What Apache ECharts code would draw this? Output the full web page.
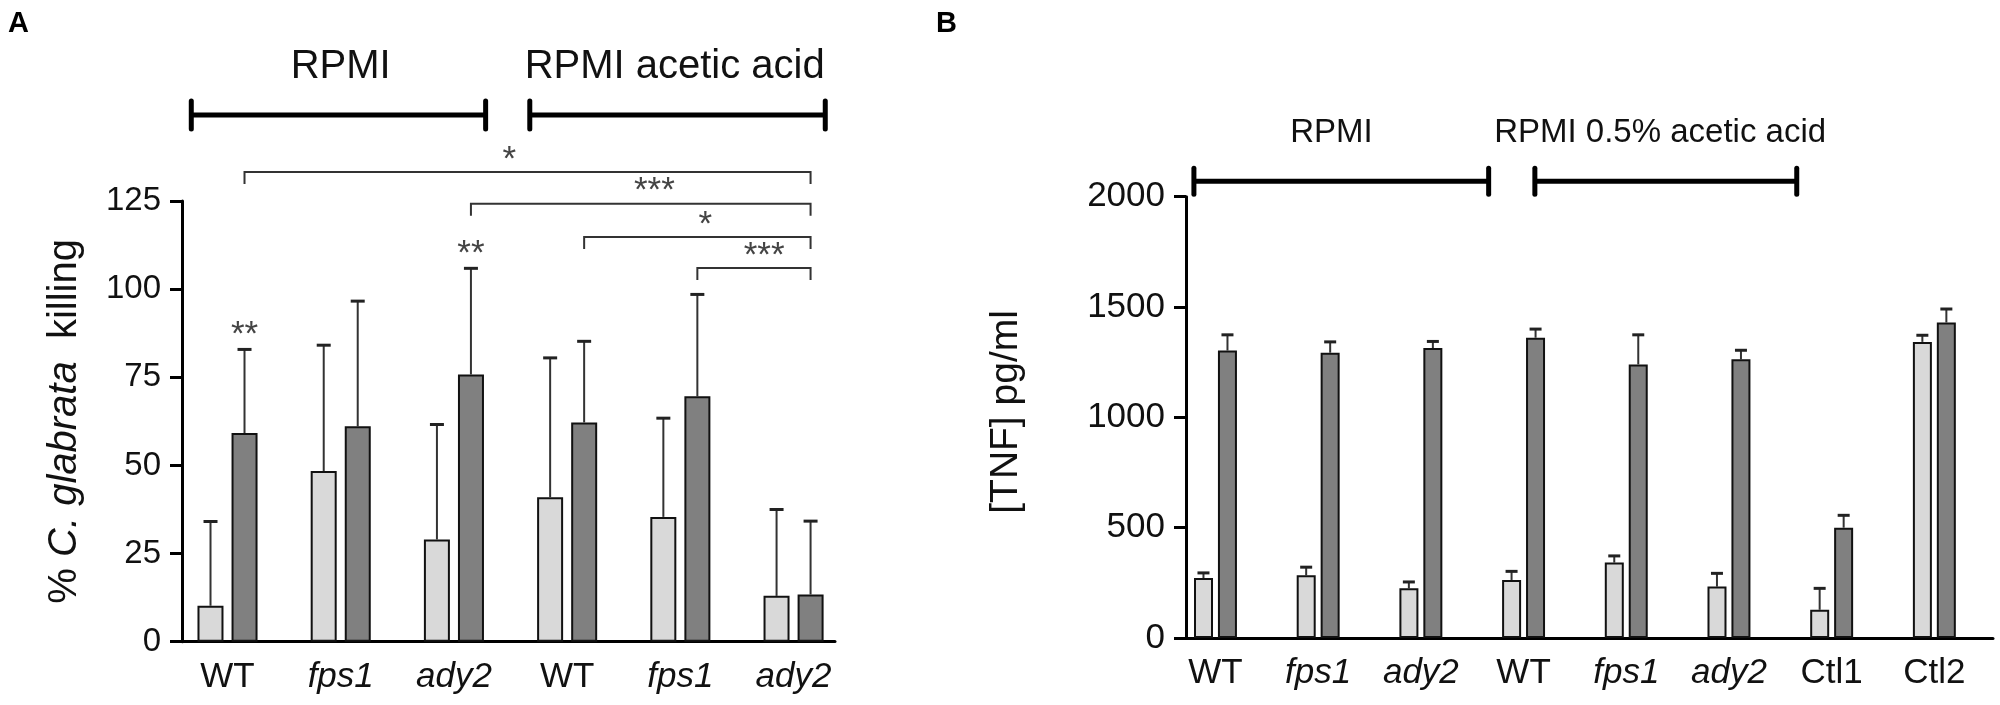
<!DOCTYPE html>
<html><head><meta charset="utf-8">
<script src="https://cdn.jsdelivr.net/npm/echarts@6/dist/echarts.min.js"></script>
<style>html,body{margin:0;padding:0;background:#fff}#c{width:2000px;height:705px}</style>
</head><body><div id="c"></div>
<script>
// ---------- Panel A data ----------
const catsA = ['WT', 'fps1', 'ady2', 'WT', 'fps1', 'ady2'];
const italicA = [false, true, true, false, true, true];
const lightA = [10.2, 48.4, 29.0, 41.0, 35.4, 13.0];
const lightAErr = [34.1, 84.1, 61.6, 80.5, 63.4, 37.5];
const darkA = [59.2, 61.1, 75.8, 62.2, 69.6, 13.4];
const darkAErr = [82.9, 96.6, 105.9, 85.2, 98.5, 34.2];
const ticksA = [0, 25, 50, 75, 100, 125];
// significance brackets (group indices, level in % units, star position in group units)
const sigFromA = [0, 2, 3, 4];
const sigToA = [5, 5, 5, 5];
const sigLevelA = [133.2, 124.2, 114.8, 106.0];
const sigTextA = ['*', '***', '*', '***'];
const sigAtA = [2.49, 3.77, 4.22, 4.74];
const starGroupsA = [0, 2];
const starTextA = ['**', '**'];
// condition brackets above panel A
const condTextA = ['RPMI', 'RPMI acetic acid'];
const condFromA = [-0.32, 2.67];
const condToA = [2.28, 5.28];
const condAtA = [1.0, 3.95];

// ---------- Panel B data ----------
const catsB = ['WT', 'fps1', 'ady2', 'WT', 'fps1', 'ady2', 'Ctl1', 'Ctl2'];
const italicB = [false, true, true, false, true, true, false, false];
const lightB = [272, 284, 225, 263, 342, 233, 128, 1342];
const lightBErr = [295, 321, 254, 302, 372, 293, 225, 1372];
const darkB = [1303, 1293, 1314, 1361, 1240, 1263, 500, 1430];
const darkBErr = [1374, 1342, 1344, 1400, 1374, 1304, 556, 1491];
const ticksB = [0, 500, 1000, 1500, 2000];
const condTextB = ['RPMI', 'RPMI 0.5% acetic acid'];
const condFromB = [-0.21, 3.11];
const condToB = [2.66, 5.66];
const condAtB = [1.13, 4.33];

const FONT = "'Liberation Sans', Arial, Helvetica, sans-serif";
const chart = echarts.init(document.getElementById('c'), null, {renderer: 'canvas'});

function xAxisCfg(grid, min, max, cats, italic, fs) {
  return {
    type: 'value', gridIndex: grid, min: min, max: max,
    splitLine: {show: false},
    axisTick: {show: false},
    axisLine: {show: true, onZero: false, lineStyle: {color: '#000', width: 3}},
    axisLabel: {
      customValues: cats.map((c, i) => i),
      margin: 18,
      formatter: v => { const i = Math.round(v); return italic[i] ? '{i|' + cats[i] + '}' : '{n|' + cats[i] + '}'; },
      rich: {
        n: {fontSize: fs, fontFamily: FONT, color: '#111'},
        i: {fontSize: fs, fontFamily: FONT, color: '#111', fontStyle: 'italic'}
      }
    }
  };
}
function yAxisCfg(grid, ticks, fs, margin, name, nameFs, nameGap, rich) {
  return {
    type: 'value', gridIndex: grid, min: ticks[0], max: ticks[ticks.length - 1],
    interval: ticks[1] - ticks[0],
    splitLine: {show: false},
    axisLine: {show: true, onZero: false, lineStyle: {color: '#000', width: 3}},
    axisTick: {show: true, length: 12, lineStyle: {color: '#000', width: 3}},
    axisLabel: {fontSize: fs, fontFamily: FONT, color: '#111', margin: margin, formatter: v => String(v)},
    name: name, nameLocation: 'middle', nameGap: nameGap, nameRotate: 90,
    nameTextStyle: {fontSize: nameFs, fontFamily: FONT, color: '#111', rich: rich}
  };
}
function barSeries(axis, vals, color, bw, gap, z) {
  return {
    type: 'bar', xAxisIndex: axis, yAxisIndex: axis,
    data: vals.map((v, i) => [i, v]),
    barWidth: bw, barGap: gap,
    itemStyle: {color: color, borderColor: '#111', borderWidth: 2},
    z: z, silent: true
  };
}
function errSeries(axis, tops, errs, dx, cap, color) {
  return {
    type: 'custom', xAxisIndex: axis, yAxisIndex: axis, silent: true, z: 1,
    data: tops.map((v, i) => [i, v, errs[i]]),
    renderItem: (p, api) => {
      const a = api.coord([api.value(0), api.value(1)]);
      const b = api.coord([api.value(0), api.value(2)]);
      const x = a[0] + dx;
      return {type: 'group', children: [
        {type: 'line', shape: {x1: x, y1: a[1], x2: x, y2: b[1]}, style: {stroke: color, lineWidth: 2}},
        {type: 'line', shape: {x1: x - cap / 2, y1: b[1], x2: x + cap / 2, y2: b[1]}, style: {stroke: '#222', lineWidth: 3}}
      ]};
    }
  };
}
function condSeries(axis, texts, froms, tos, ats, level, textLevel, capH, fs) {
  return {
    type: 'custom', xAxisIndex: axis, yAxisIndex: axis, silent: true, clip: false,
    data: texts.map((t, i) => [froms[i], tos[i], ats[i]]),
    renderItem: (p, api) => {
      const i = p.dataIndex;
      const a = api.coord([froms[i], level]);
      const b = api.coord([tos[i], level]);
      const t = api.coord([ats[i], textLevel]);
      return {type: 'group', children: [
        {type: 'line', shape: {x1: a[0], y1: a[1], x2: b[0], y2: b[1]}, style: {stroke: '#000', lineWidth: 5}},
        {type: 'line', shape: {x1: a[0], y1: a[1] - capH, x2: a[0], y2: a[1] + capH}, style: {stroke: '#000', lineWidth: 5, lineCap: 'round'}},
        {type: 'line', shape: {x1: b[0], y1: b[1] - capH, x2: b[0], y2: b[1] + capH}, style: {stroke: '#000', lineWidth: 5, lineCap: 'round'}},
        {type: 'text', x: t[0], y: t[1], style: {text: texts[i], fontSize: fs, fontFamily: FONT, fill: '#111', align: 'center', verticalAlign: 'middle'}}
      ]};
    }
  };
}

const option = {
  backgroundColor: '#fff',
  animation: false,
  grid: [
    {left: 182, top: 201, width: 653, height: 440.7},
    {left: 1186, top: 196.7, width: 807, height: 441.3}
  ],
  xAxis: [
    xAxisCfg(0, -0.402, 5.366, catsA, italicA, 35),
    xAxisCfg(1, -0.287, 7.571, catsB, italicB, 35)
  ],
  yAxis: [
    yAxisCfg(0, ticksA, 33, 21, '{n|% }{i|C. glabrata}{n|  killing}', 40, 97, {
      n: {fontSize: 40, fontFamily: FONT, color: '#111'},
      i: {fontSize: 40, fontFamily: FONT, color: '#111', fontStyle: 'italic'}
    }),
    yAxisCfg(1, ticksB, 35, 21, ' [TNF] pg/ml', 39, 160, undefined)
  ],
  graphic: [
    {type: 'text', left: 8, top: 9, style: {text: 'A', font: 'bold 29px ' + FONT, fill: '#000'}},
    {type: 'text', left: 936, top: 9, style: {text: 'B', font: 'bold 29px ' + FONT, fill: '#000'}}
  ],
  series: [
    errSeries(0, lightA, lightAErr, -17, 14, '#333'),
    errSeries(0, darkA, darkAErr, 17, 14, '#333'),
    barSeries(0, lightA, '#d9d9d9', 26, '31%', 2),
    barSeries(0, darkA, '#808080', 26, '31%', 2),
    errSeries(1, lightB, lightBErr, -12, 12, '#333'),
    errSeries(1, darkB, darkBErr, 12, 12, '#333'),
    barSeries(1, lightB, '#d9d9d9', 19, '26%', 2),
    barSeries(1, darkB, '#808080', 19, '26%', 2),
    condSeries(0, condTextA, condFromA, condToA, condAtA, 149.4, 163, 14, 40),
    condSeries(1, condTextB, condFromB, condToB, condAtB, 2070, 2289, 13, 33),
    {
      type: 'custom', xAxisIndex: 0, yAxisIndex: 0, silent: true, clip: false,
      data: sigLevelA.map((l, i) => [sigFromA[i], sigToA[i], l]),
      renderItem: (p, api) => {
        const i = p.dataIndex;
        const a = api.coord([sigFromA[i], sigLevelA[i]]);
        const b = api.coord([sigToA[i], sigLevelA[i]]);
        const t = api.coord([sigAtA[i], sigLevelA[i]]);
        const x1 = a[0] + 17, x2 = b[0] + 17, y = a[1];
        return {type: 'group', children: [
          {type: 'polyline', shape: {points: [[x1, y + 12], [x1, y], [x2, y], [x2, y + 12]]}, style: {stroke: '#333', lineWidth: 2, fill: null}},
          {type: 'text', x: t[0], y: y - 12, style: {text: sigTextA[i], fontSize: 35, fontFamily: FONT, fill: '#444', align: 'center', verticalAlign: 'middle'}}
        ]};
      }
    },
    {
      type: 'custom', xAxisIndex: 0, yAxisIndex: 0, silent: true, clip: false,
      data: starGroupsA.map(g => [g, darkAErr[g]]),
      renderItem: (p, api) => {
        const c = api.coord([api.value(0), api.value(1)]);
        return {type: 'text', x: c[0] + 17, y: c[1] - 14, style: {text: starTextA[p.dataIndex], fontSize: 35, fontFamily: FONT, fill: '#444', align: 'center', verticalAlign: 'middle'}};
      }
    }
  ]
};
chart.setOption(option);
</script>
</body></html>
